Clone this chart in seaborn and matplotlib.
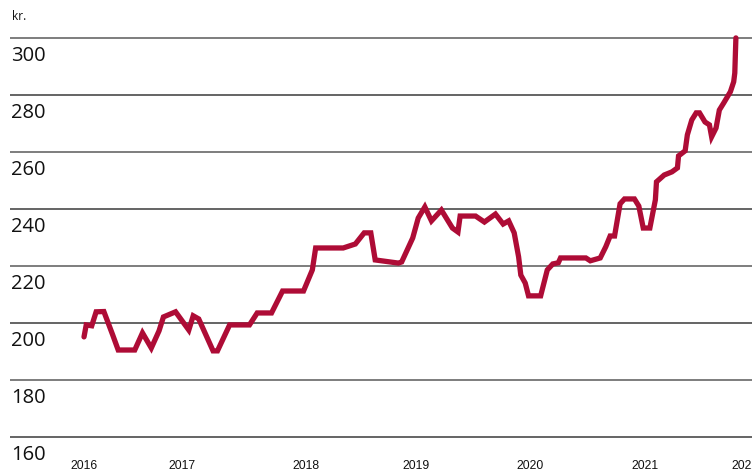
import matplotlib
matplotlib.use('Agg')
import matplotlib.pyplot as plt
import matplotlib.transforms as mtransforms
import seaborn as sns
import pandas as pd

# price in kr., x as fractional year
years = [
    2016.00, 2016.02, 2016.07, 2016.11, 2016.18, 2016.26, 2016.31, 2016.46, 2016.53, 2016.61,
    2016.68, 2016.72, 2016.83, 2016.95, 2016.99, 2017.04, 2017.17, 2017.21, 2017.32, 2017.50,
    2017.57, 2017.70, 2017.80, 2017.99, 2018.07, 2018.10, 2018.35, 2018.46, 2018.54, 2018.60,
    2018.64, 2018.85, 2018.88, 2018.98, 2019.03, 2019.09, 2019.15, 2019.24, 2019.34, 2019.39,
    2019.41, 2019.55, 2019.63, 2019.73, 2019.80, 2019.85, 2019.90, 2019.94, 2019.96, 2020.00,
    2020.03, 2020.14, 2020.20, 2020.25, 2020.30, 2020.32, 2020.55, 2020.59, 2020.68, 2020.73,
    2020.77, 2020.81, 2020.86, 2020.90, 2020.99, 2021.03, 2021.07, 2021.13, 2021.18, 2021.19,
    2021.26, 2021.33, 2021.38, 2021.39, 2021.45, 2021.47, 2021.51, 2021.55, 2021.58, 2021.63,
    2021.67, 2021.69, 2021.73, 2021.76, 2021.80, 2021.86, 2021.89, 2021.90, 2021.91,
]
prices = [
    195.1, 199.3, 199.0, 203.9, 204.0, 195.8, 190.5, 190.5, 196.5, 191.2,
    197.2, 202.1, 203.9, 197.5, 202.5, 201.4, 190.2, 190.2, 199.3, 199.3,
    203.5, 203.5, 211.2, 211.2, 218.6, 226.3, 226.3, 227.7, 231.6, 231.6,
    222.1, 221.0, 221.4, 229.8, 236.8, 240.7, 235.8, 239.6, 233.3, 231.9,
    237.5, 237.5, 235.4, 238.2, 234.7, 235.8, 231.6, 223.2, 216.8, 214.0,
    209.5, 209.5, 218.6, 220.7, 221.1, 222.8, 222.8, 221.8, 222.8, 226.7,
    230.5, 230.5, 241.8, 243.5, 243.5, 241.0, 233.3, 233.3, 243.2, 249.5,
    251.9, 253.0, 254.4, 258.6, 260.4, 266.0, 271.2, 273.7, 273.7, 270.5,
    269.5, 265.3, 268.4, 274.7, 277.2, 281.1, 284.6, 287.7, 300.0,
]
y_ticks = [160, 180, 200, 220, 240, 260, 280, 300]
x_tick_pos = [2016.0, 2016.89, 2018.01, 2019.01, 2020.04, 2021.09, 2021.99]
x_tick_labels = ['2016', '2017', '2018', '2019', '2020', '2021', '2022']

sns.set_style('white')
plt.rcParams['font.family'] = ['Open Sans', 'DejaVu Sans']

fig = plt.figure(figsize=(7.52, 4.74), dpi=100)
ax = fig.add_axes([10 / 752, 0, 742 / 752, 1])

df = pd.DataFrame({'year': years, 'price': prices})
sns.lineplot(data=df, x='year', y='price', color='#AE0C36', linewidth=3.8,
             ax=ax, zorder=3, solid_joinstyle='miter')

ax.set_xlim(2015.329, 2022.056)
ax.set_ylim(147.0, 313.3)
for i, v in enumerate(y_ticks):
    ax.axhline(v, color='#3a3a3a' if i % 2 == 0 else '#5a5a5a',
               linewidth=1.1, zorder=1)

ax.set_yticks([])
ax.set_xticks(x_tick_pos)
ax.set_xticklabels(x_tick_labels, fontsize=8.8, color='#111111',
                   family=['Liberation Sans Narrow', 'Liberation Sans'])
ax.tick_params(axis='x', length=0, pad=-10)
ax.set_xlabel('')
ax.set_ylabel('')
for s in ax.spines.values():
    s.set_visible(False)

off = mtransforms.ScaledTranslation(1 / 100, -8 / 100, fig.dpi_scale_trans)
trans = mtransforms.blended_transform_factory(ax.transAxes, ax.transData) + off
for v in y_ticks:
    ax.text(0, v, str(v), transform=trans, ha='left', va='top', fontsize=14.5,
            color='#111111')

fig.text(12 / 752, 1 - 17 / 474, 'kr.', fontsize=8.5, va='center', ha='left',
         color='#111111')

fig.savefig('out.png', dpi=100)
